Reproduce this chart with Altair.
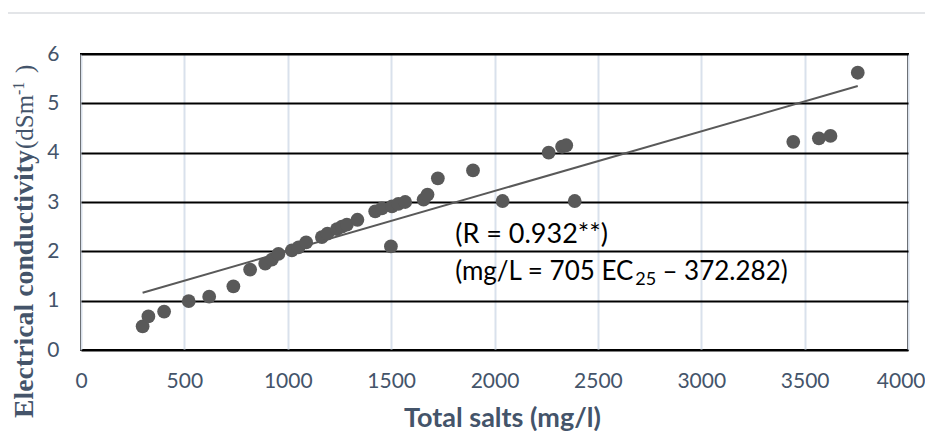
import altair as alt
import pandas as pd

# ---- data ----
salts = [298, 326, 402, 521, 620, 737, 818, 891, 923, 955, 1020, 1052, 1089,
         1165, 1192, 1238, 1262, 1286, 1337, 1423, 1455, 1504, 1535, 1568, 1657,
         1676, 1726, 1499, 1896, 2039, 2262, 2327, 2347, 2388, 3445, 3569, 3625,
         3757]
ec = [0.48, 0.68, 0.78, 0.99, 1.08, 1.29, 1.63, 1.75, 1.83, 1.95, 2.02, 2.08,
      2.18, 2.29, 2.36, 2.45, 2.50, 2.54, 2.64, 2.81, 2.87, 2.91, 2.96, 3.00,
      3.05, 3.15, 3.48, 2.10, 3.64, 3.02, 4.00, 4.12, 4.15, 3.02, 4.22, 4.29,
      4.34, 5.62]
trend_x = [298, 3757]
trend_y = [1.16, 5.35]
x_ticks = [0, 500, 1000, 1500, 2000, 2500, 3000, 3500, 4000]
y_ticks = [0, 1, 2, 3, 4, 5, 6]

x_title = "Total salts (mg/l)"
y_title_bold = "Electrical conductivity"
y_title_unit = "(dSm"
y_title_sup = "-1"
y_title_close = ")"
ann_r = "(R = 0.932**)"
ann_eq_a = "(mg/L = 705 EC"
ann_eq_sub = "25"
ann_eq_b = "\u2013 372.282)"

pts = pd.DataFrame({"salts": salts, "ec": ec})
trend = pd.DataFrame({"salts": trend_x, "ec": trend_y})

SLATE = "#44546a"
xscale = alt.Scale(domain=[0, 4000], nice=False, zero=False)
yscale = alt.Scale(domain=[0, 6], nice=False, zero=False)

last_x = "datum.value == %d" % x_ticks[-1]
x_axis = alt.Axis(values=x_ticks, format="d", title=x_title, grid=True,
                  gridColor="#d9e1ec", gridWidth=2, domain=False, ticks=False,
                  labelPadding=20, labelFont="Lato", labelFontSize=21,
                  labelColor=SLATE, labelFlush=False, labelOverlap=False,
                  labelAlign={"condition": {"test": last_x, "value": "right"},
                              "value": "center"},
                  labelOffset={"condition": {"test": last_x, "value": 17},
                               "value": 0},
                  titleFont="Lato", titleFontSize=27,
                  titleFontWeight="bold", titleColor=SLATE,
                  titleX=421, titleY=76, titleBaseline="alphabetic",
                  titleAlign="center")
y_axis = alt.Axis(values=y_ticks, format="d", title=None, grid=True,
                  gridColor="black", gridWidth=2, domain=False, ticks=False,
                  labelPadding=22, labelFont="Lato", labelFontSize=21,
                  labelColor=SLATE, labelFlush=False)

points = alt.Chart(pts).mark_circle(size=190, color="#595959", opacity=1).encode(
    x=alt.X("salts:Q", scale=xscale, axis=x_axis),
    y=alt.Y("ec:Q", scale=yscale, axis=y_axis),
)

line = alt.Chart(trend).mark_line(color="#595959", strokeWidth=2).encode(
    x=alt.X("salts:Q", scale=xscale),
    y=alt.Y("ec:Q", scale=yscale),
)


def ann(text, x, y, size=27, align="left"):
    df = pd.DataFrame({"t": [text], "salts": [x], "ec": [y]})
    return alt.Chart(df).mark_text(font="Lato", fontSize=size, color="black",
                                   align=align, baseline="middle").encode(
        x=alt.X("salts:Q", scale=xscale),
        y=alt.Y("ec:Q", scale=yscale),
        text="t:N",
    )


ann1 = ann(ann_r, 1810, 2.34)
ann2 = ann(ann_eq_a, 1810, 1.58, size=26)
ann3 = ann(ann_eq_sub, 2681, 1.42, size=18)
ann4 = ann(ann_eq_b, 2812, 1.58, size=26)


def ytxt(text, x, y, size, weight="normal"):
    df = pd.DataFrame({"t": [text]})
    return alt.Chart(df).mark_text(font="Liberation Serif", fontSize=size,
                                   fontWeight=weight, color=SLATE, angle=270,
                                   align="left", baseline="alphabetic").encode(
        x=alt.value(x), y=alt.value(y), text="t:N")


yt1 = ytxt(y_title_bold, -48, 364, 27.8, "bold")
yt2 = ytxt(y_title_unit, -48, 95, 25)
yt3 = ytxt(y_title_sup, -57, 41, 16)
yt4 = ytxt(y_title_close, -48, 19, 25)

top_rule = alt.Chart(pd.DataFrame({"a": [0]})).mark_rule(
    color="#e3e5e8", strokeWidth=2).encode(
    x=alt.value(-73), x2=alt.value(844), y=alt.value(-41))

chart = alt.layer(line, points, ann1, ann2, ann3, ann4, yt1, yt2, yt3, yt4,
                  top_rule).properties(
    width=827, height=296,
    padding={"left": 73, "top": 46, "right": 17, "bottom": 81},
    autosize=alt.AutoSizeParams(type="none"),
    background="white",
).configure_view(stroke="black", strokeWidth=2)

chart.save("out.html", embed_options={"renderer": "svg", "actions": False})
